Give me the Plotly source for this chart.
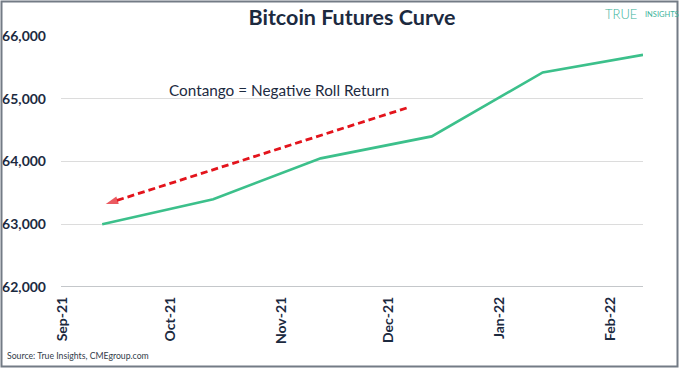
import plotly.graph_objects as go

# ---- data ----
contract_dates = ["2021-09-12", "2021-10-13", "2021-11-12", "2021-12-13", "2022-01-13", "2022-02-10"]
futures_price = [63000, 63400, 64050, 64400, 65420, 65700]

x_tick_dates = ["2021-09-01", "2021-10-01", "2021-11-01", "2021-12-01", "2022-01-01", "2022-02-01"]
x_tick_labels = ["Sep-21", "Oct-21", "Nov-21", "Dec-21", "Jan-22", "Feb-22"]
y_tick_vals = [62000, 63000, 64000, 65000, 66000]

arrow_x = ["2021-12-06", "2021-09-13"]   # tail -> head
arrow_y = [64853, 63323]

title_text = "Bitcoin Futures Curve"
annot_text = "Contango = Negative Roll Return"
source_text = "Source: True Insights, CMEgroup.com"

# ---- layout constants ----
W, H = 679, 368
ML, MR, MT, MB = 61, 36, 36, 81
PW, PH = W - ML - MR, H - MT - MB
NAVY = "#1c2a3f"
GREEN = "#3cc08b"
RED = "#e3141c"
TEAL = "#3bb39a"
FONT = "Lato"

fig = go.Figure()
fig.add_trace(go.Scatter(
    x=contract_dates, y=futures_price, mode="lines",
    line=dict(color=GREEN, width=2.6), hoverinfo="skip", showlegend=False))

fig.add_trace(go.Scatter(
    x=arrow_x, y=arrow_y, mode="lines+markers",
    line=dict(color=RED, width=2.8, dash="7px,4px"),
    marker=dict(symbol="arrow", size=[0, 13], color=RED, angleref="previous",
                line=dict(width=0)),
    hoverinfo="skip", showlegend=False))

fig.update_layout(
    width=W, height=H,
    margin=dict(l=ML, r=MR, t=MT, b=MB, autoexpand=False),
    paper_bgcolor="white", plot_bgcolor="white",
    font=dict(family=FONT, color=NAVY),
    title=dict(text="<b>" + title_text + "</b>", x=0.5, xref="paper", xanchor="center",
               y=1 - 17 / H, yref="container", yanchor="middle",
               font=dict(size=21.5, color=NAVY, family=FONT)),
    xaxis=dict(
        type="date", range=["2021-08-31 12:00", "2022-02-10"],
        tickvals=x_tick_dates, ticktext=["<b>%s</b>" % t for t in x_tick_labels],
        tickangle=-90, tickfont=dict(size=14, color=NAVY, family=FONT),
        showgrid=False, zeroline=False, showline=False, ticks="",
        ticklabelstandoff=6, automargin=False),
    yaxis=dict(
        range=[62000, 66000], tickvals=y_tick_vals,
        ticktext=["<b>{:,}</b>".format(v) for v in y_tick_vals],
        tickfont=dict(size=14, color=NAVY, family=FONT),
        showgrid=True, gridcolor="#dcdcdc", gridwidth=1,
        zeroline=False, showline=False, ticks="", ticklabelstandoff=14,
        automargin=False),
    showlegend=False,
)

# bottom axis line (darker)
fig.add_shape(type="line", xref="paper", yref="y", x0=0, x1=1, y0=62000, y1=62000,
              line=dict(color="#8a8f96", width=1.2), layer="above")

# annotation text
fig.add_annotation(text=annot_text, xref="paper", yref="paper",
                   x=(279 - ML) / PW, y=1 - (90 - MT) / PH, showarrow=False,
                   font=dict(size=15.3, color=NAVY, family=FONT),
                   xanchor="center", yanchor="middle")

# logo
fig.add_annotation(text="TRUE", xref="paper", yref="paper",
                   x=(639 - ML) / PW, y=1 + (MT - 14) / PH, showarrow=False,
                   font=dict(size=13, color=TEAL, family=FONT, weight=300),
                   xanchor="right", yanchor="middle")
fig.add_annotation(text="INSIGHTS", xref="paper", yref="paper",
                   x=(643 - ML) / PW, y=1 + (MT - 14) / PH, showarrow=False,
                   font=dict(size=7.5, color=TEAL, family=FONT),
                   xanchor="left", yanchor="middle")

# source
fig.add_annotation(text=source_text, xref="paper", yref="paper",
                   x=(5 - ML) / PW, y=1 - (355 - MT) / PH, showarrow=False,
                   font=dict(size=8.7, color="#333d4a", family=FONT),
                   xanchor="left", yanchor="middle")

# frame border
fig.add_shape(type="rect", xref="paper", yref="paper",
              x0=(1.5 - ML) / PW, x1=(W - 1.5 - ML) / PW,
              y0=1 - (H - 1.5 - MT) / PH, y1=1 + (MT - 1.5) / PH,
              line=dict(color="#737b85", width=2), fillcolor="rgba(0,0,0,0)")

fig.write_html("out.html", config={"displayModeBar": False},
               post_script="document.body.style.margin='0';document.body.style.overflow='hidden';")
